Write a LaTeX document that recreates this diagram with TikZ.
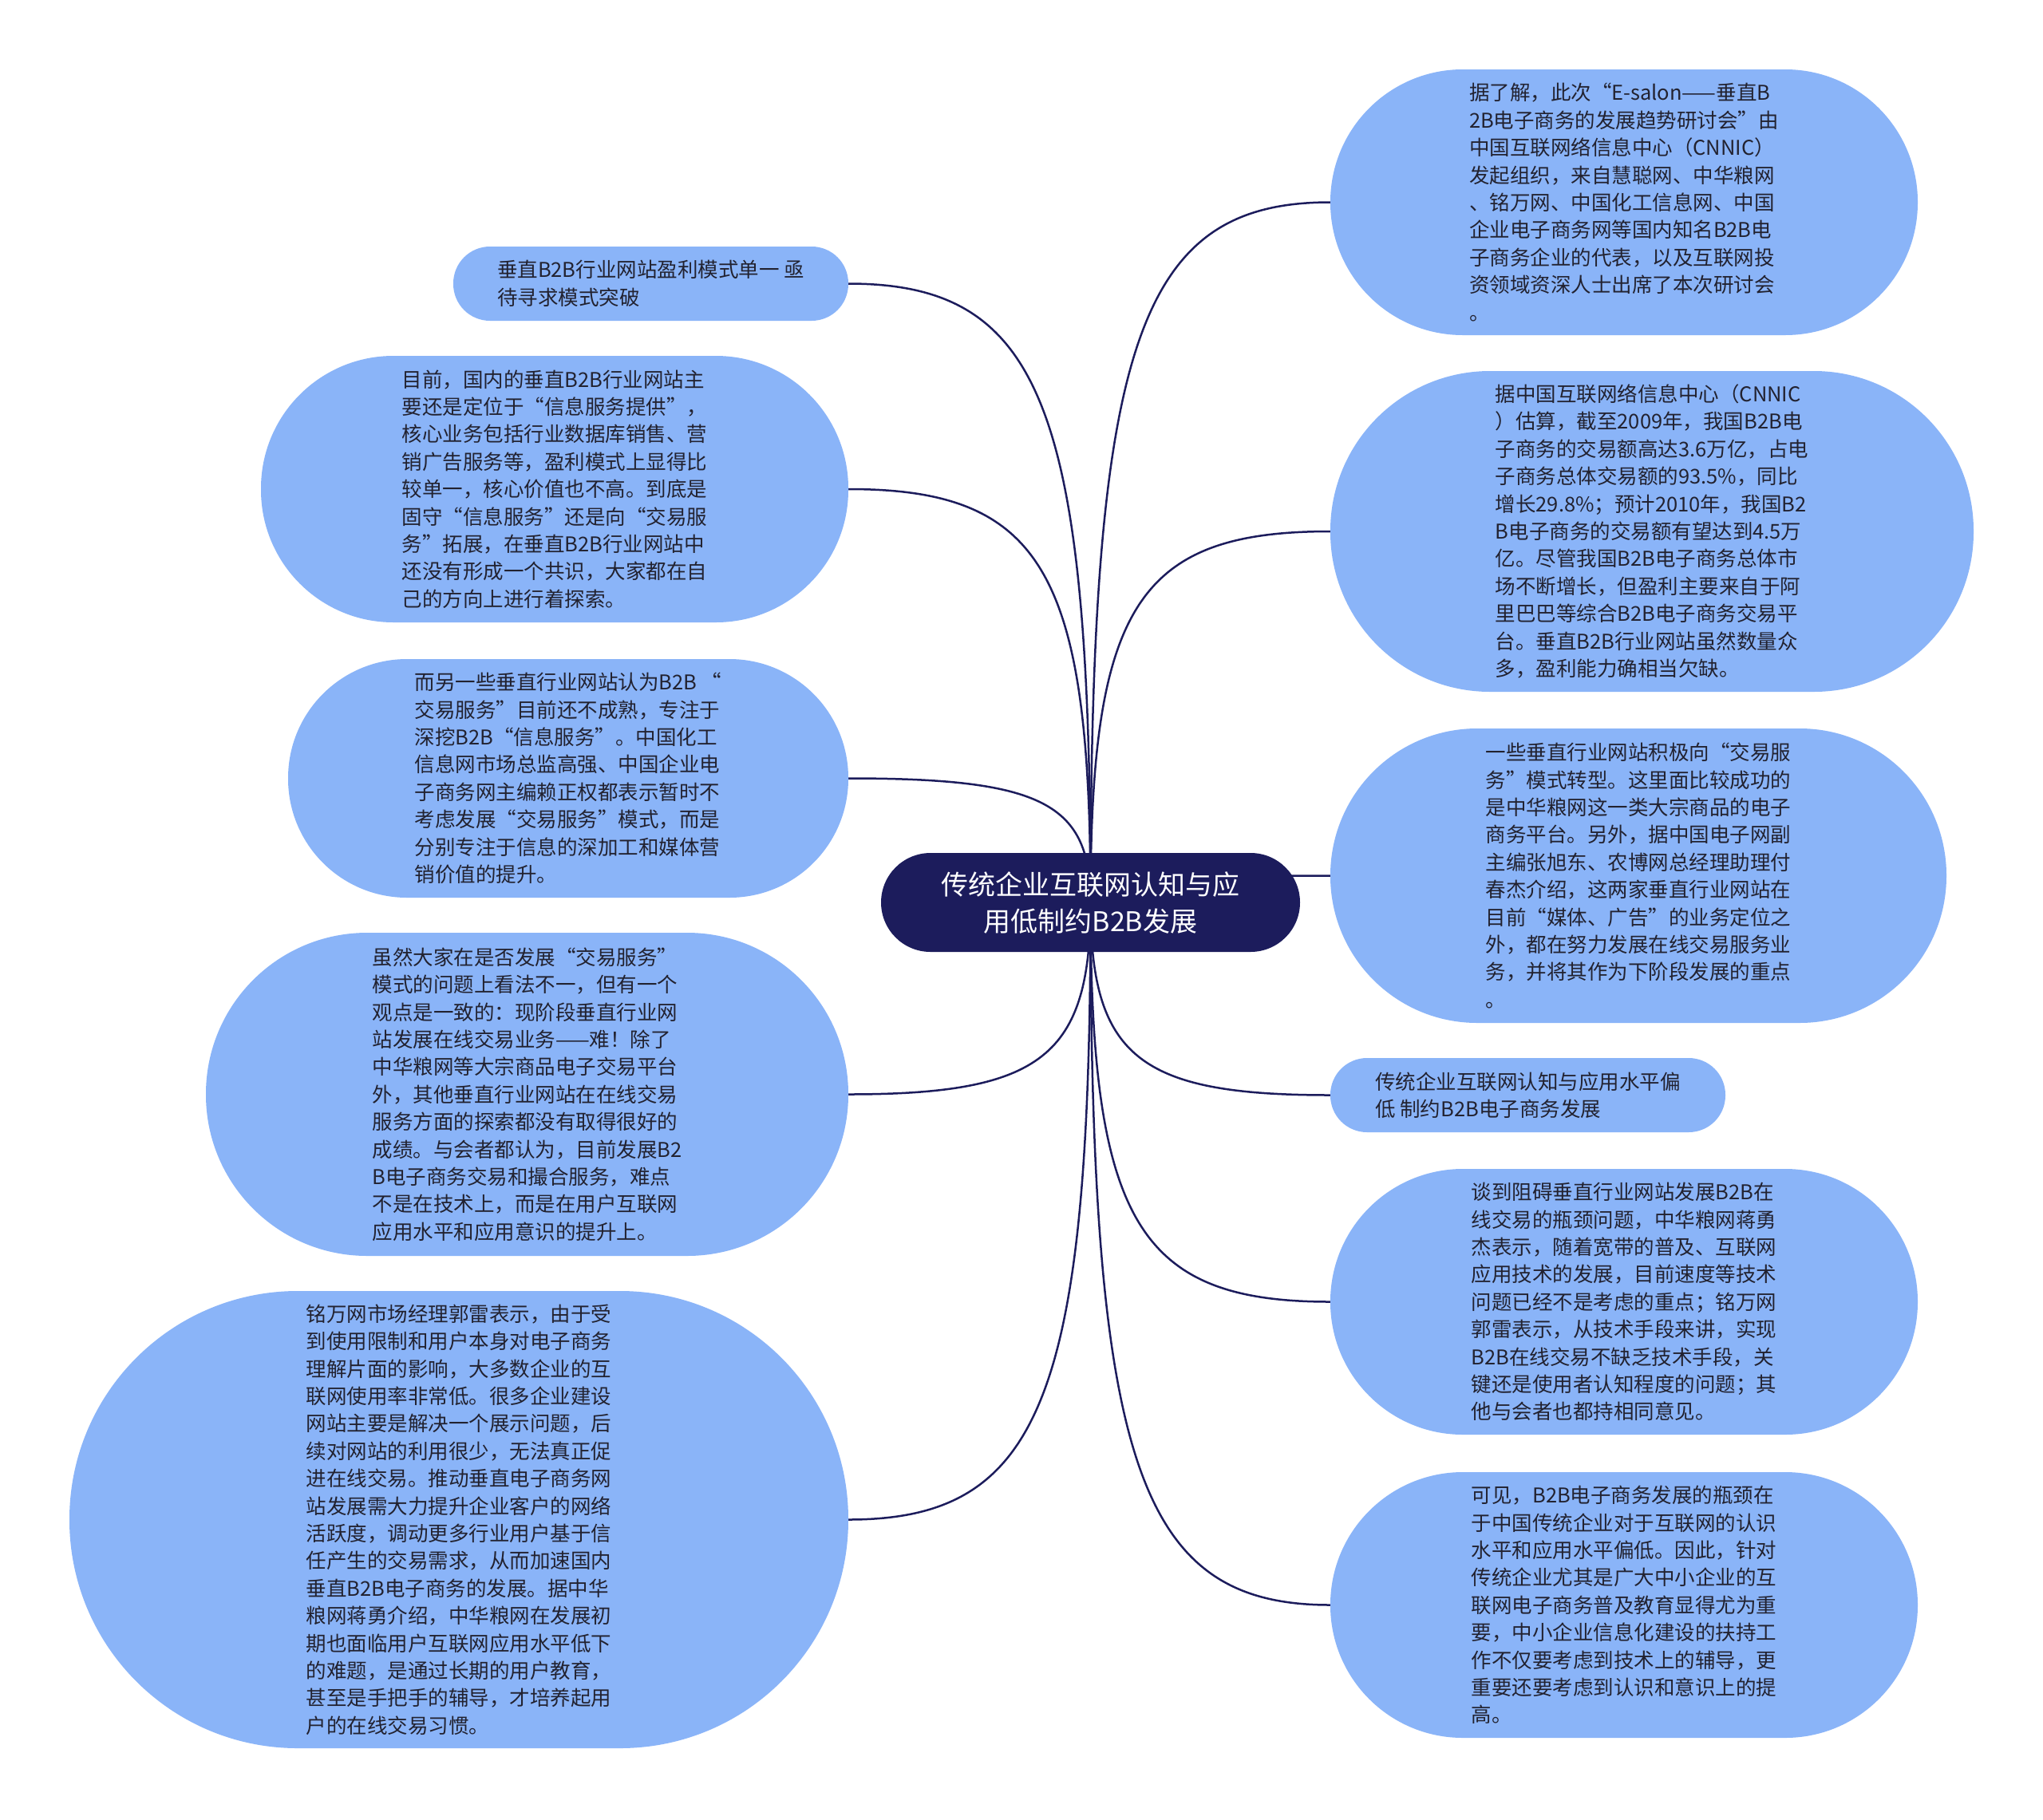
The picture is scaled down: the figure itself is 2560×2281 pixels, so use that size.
\documentclass[tikz,border=0pt]{standalone}
\usepackage{fontspec}
\newfontfamily\cjk{Noto Sans CJK SC}
\usetikzlibrary{calc,backgrounds}
\definecolor{leafblue}{HTML}{8AB4F8}
\definecolor{navy}{HTML}{1C1C5C}
\definecolor{leaftext}{HTML}{222230}
\tikzset{
  leaf/.style={fill=leafblue, align=left, text=leaftext, inner sep=0pt,
    font=\cjk\fontsize{25.5}{34.4}\selectfont},
  hub/.style={fill=navy, align=center, text=white, inner sep=0pt,
    font=\cjk\fontsize{34}{46}\selectfont},
  conn/.style={draw=navy, line width=2.5pt},
}
\newcommand\mmlink[2]{%
  \draw[conn] let \p1=(c.center), \p2=(#1.#2) in
    (\p1) .. controls (\x1,{\y1+0.8*(\y2-\y1)}) and ({\x2+0.8*(\x1-\x2)},\y2) .. (\p2);}
\begin{document}
\begin{tikzpicture}[x=1pt,y=-1pt]
\useasboundingbox (0,0) rectangle (2560,2281);

% central node
\node[hub, minimum width=525pt, minimum height=124pt, rounded corners=62pt] (c) at (1366.5,1131)
  {传统企业互联网认知与应\\用低制约B2B发展};

% right side
\node[leaf, minimum width=736pt, minimum height=333pt, rounded corners=166pt] (r1) at (2035,253.5)
  {据了解，此次“E-salon——垂直B\\
   2B电子商务的发展趋势研讨会”由\\
   中国互联网络信息中心（CNNIC）\\
   发起组织，来自慧聪网、中华粮网\\
   、铭万网、中国化工信息网、中国\\
   企业电子商务网等国内知名B2B电\\
   子商务企业的代表，以及互联网投\\
   资领域资深人士出席了本次研讨会\\
   。};

\node[leaf, minimum width=806pt, minimum height=402pt, rounded corners=200pt] (r2) at (2070,666)
  {据中国互联网络信息中心（CNNIC\\
   ）估算，截至2009年，我国B2B电\\
   子商务的交易额高达3.6万亿，占电\\
   子商务总体交易额的93.5\%，同比\\
   增长29.8\%；预计2010年，我国B2\\
   B电子商务的交易额有望达到4.5万\\
   亿。尽管我国B2B电子商务总体市\\
   场不断增长，但盈利主要来自于阿\\
   里巴巴等综合B2B电子商务交易平\\
   台。垂直B2B行业网站虽然数量众\\
   多，盈利能力确相当欠缺。};

\node[leaf, minimum width=772pt, minimum height=369pt, rounded corners=184pt] (r3) at (2053,1097.5)
  {一些垂直行业网站积极向“交易服\\
   务”模式转型。这里面比较成功的\\
   是中华粮网这一类大宗商品的电子\\
   商务平台。另外，据中国电子网副\\
   主编张旭东、农博网总经理助理付\\
   春杰介绍，这两家垂直行业网站在\\
   目前“媒体、广告”的业务定位之\\
   外，都在努力发展在线交易服务业\\
   务，并将其作为下阶段发展的重点\\
   。};

\node[leaf, minimum width=495pt, minimum height=93pt, rounded corners=46pt] (r4) at (1914.5,1372.5)
  {传统企业互联网认知与应用水平偏\\
   低 制约B2B电子商务发展};

\node[leaf, minimum width=736pt, minimum height=333pt, rounded corners=166pt] (r5) at (2035,1631.5)
  {谈到阻碍垂直行业网站发展B2B在\\
   线交易的瓶颈问题，中华粮网蒋勇\\
   杰表示，随着宽带的普及、互联网\\
   应用技术的发展，目前速度等技术\\
   问题已经不是考虑的重点；铭万网\\
   郭雷表示，从技术手段来讲，实现\\
   B2B在线交易不缺乏技术手段，关\\
   键还是使用者认知程度的问题；其\\
   他与会者也都持相同意见。};

\node[leaf, minimum width=736pt, minimum height=333pt, rounded corners=166pt] (r6) at (2035,2011.5)
  {可见，B2B电子商务发展的瓶颈在\\
   于中国传统企业对于互联网的认识\\
   水平和应用水平偏低。因此，针对\\
   传统企业尤其是广大中小企业的互\\
   联网电子商务普及教育显得尤为重\\
   要，中小企业信息化建设的扶持工\\
   作不仅要考虑到技术上的辅导，更\\
   重要还要考虑到认识和意识上的提\\
   高。};

% left side
\node[leaf, minimum width=495pt, minimum height=93pt, rounded corners=46pt] (l1) at (815.5,355.5)
  {垂直B2B行业网站盈利模式单一 亟\\
   待寻求模式突破};

\node[leaf, minimum width=736pt, minimum height=334pt, rounded corners=166pt] (l2) at (695,613)
  {目前，国内的垂直B2B行业网站主\\
   要还是定位于“信息服务提供”，\\
   核心业务包括行业数据库销售、营\\
   销广告服务等，盈利模式上显得比\\
   较单一，核心价值也不高。到底是\\
   固守“信息服务”还是向“交易服\\
   务”拓展，在垂直B2B行业网站中\\
   还没有形成一个共识，大家都在自\\
   己的方向上进行着探索。};

\node[leaf, minimum width=702pt, minimum height=299pt, rounded corners=149pt] (l3) at (712,975.5)
  {而另一些垂直行业网站认为B2B “\\
   交易服务”目前还不成熟，专注于\\
   深挖B2B“信息服务”。中国化工\\
   信息网市场总监高强、中国企业电\\
   子商务网主编赖正权都表示暂时不\\
   考虑发展“交易服务”模式，而是\\
   分别专注于信息的深加工和媒体营\\
   销价值的提升。};

\node[leaf, minimum width=805pt, minimum height=405pt, rounded corners=202pt] (l4) at (660.5,1371.5)
  {虽然大家在是否发展“交易服务”\\
   模式的问题上看法不一，但有一个\\
   观点是一致的：现阶段垂直行业网\\
   站发展在线交易业务——难！除了\\
   中华粮网等大宗商品电子交易平台\\
   外，其他垂直行业网站在在线交易\\
   服务方面的探索都没有取得很好的\\
   成绩。与会者都认为，目前发展B2\\
   B电子商务交易和撮合服务，难点\\
   不是在技术上，而是在用户互联网\\
   应用水平和应用意识的提升上。};

\node[leaf, minimum width=976pt, minimum height=573pt, rounded corners=286pt] (l5) at (575,1904.5)
  {铭万网市场经理郭雷表示，由于受\\
   到使用限制和用户本身对电子商务\\
   理解片面的影响，大多数企业的互\\
   联网使用率非常低。很多企业建设\\
   网站主要是解决一个展示问题，后\\
   续对网站的利用很少，无法真正促\\
   进在线交易。推动垂直电子商务网\\
   站发展需大力提升企业客户的网络\\
   活跃度，调动更多行业用户基于信\\
   任产生的交易需求，从而加速国内\\
   垂直B2B电子商务的发展。据中华\\
   粮网蒋勇介绍，中华粮网在发展初\\
   期也面临用户互联网应用水平低下\\
   的难题，是通过长期的用户教育，\\
   甚至是手把手的辅导，才培养起用\\
   户的在线交易习惯。};

% connectors, behind the nodes
\begin{scope}[on background layer]
  \fill[white] (0,0) rectangle (2560,2281);
  \mmlink{r1}{west}
  \mmlink{r2}{west}
  \mmlink{r3}{west}
  \mmlink{r4}{west}
  \mmlink{r5}{west}
  \mmlink{r6}{west}
  \mmlink{l1}{east}
  \mmlink{l2}{east}
  \mmlink{l3}{east}
  \mmlink{l4}{east}
  \mmlink{l5}{east}
\end{scope}
\end{tikzpicture}
\end{document}
